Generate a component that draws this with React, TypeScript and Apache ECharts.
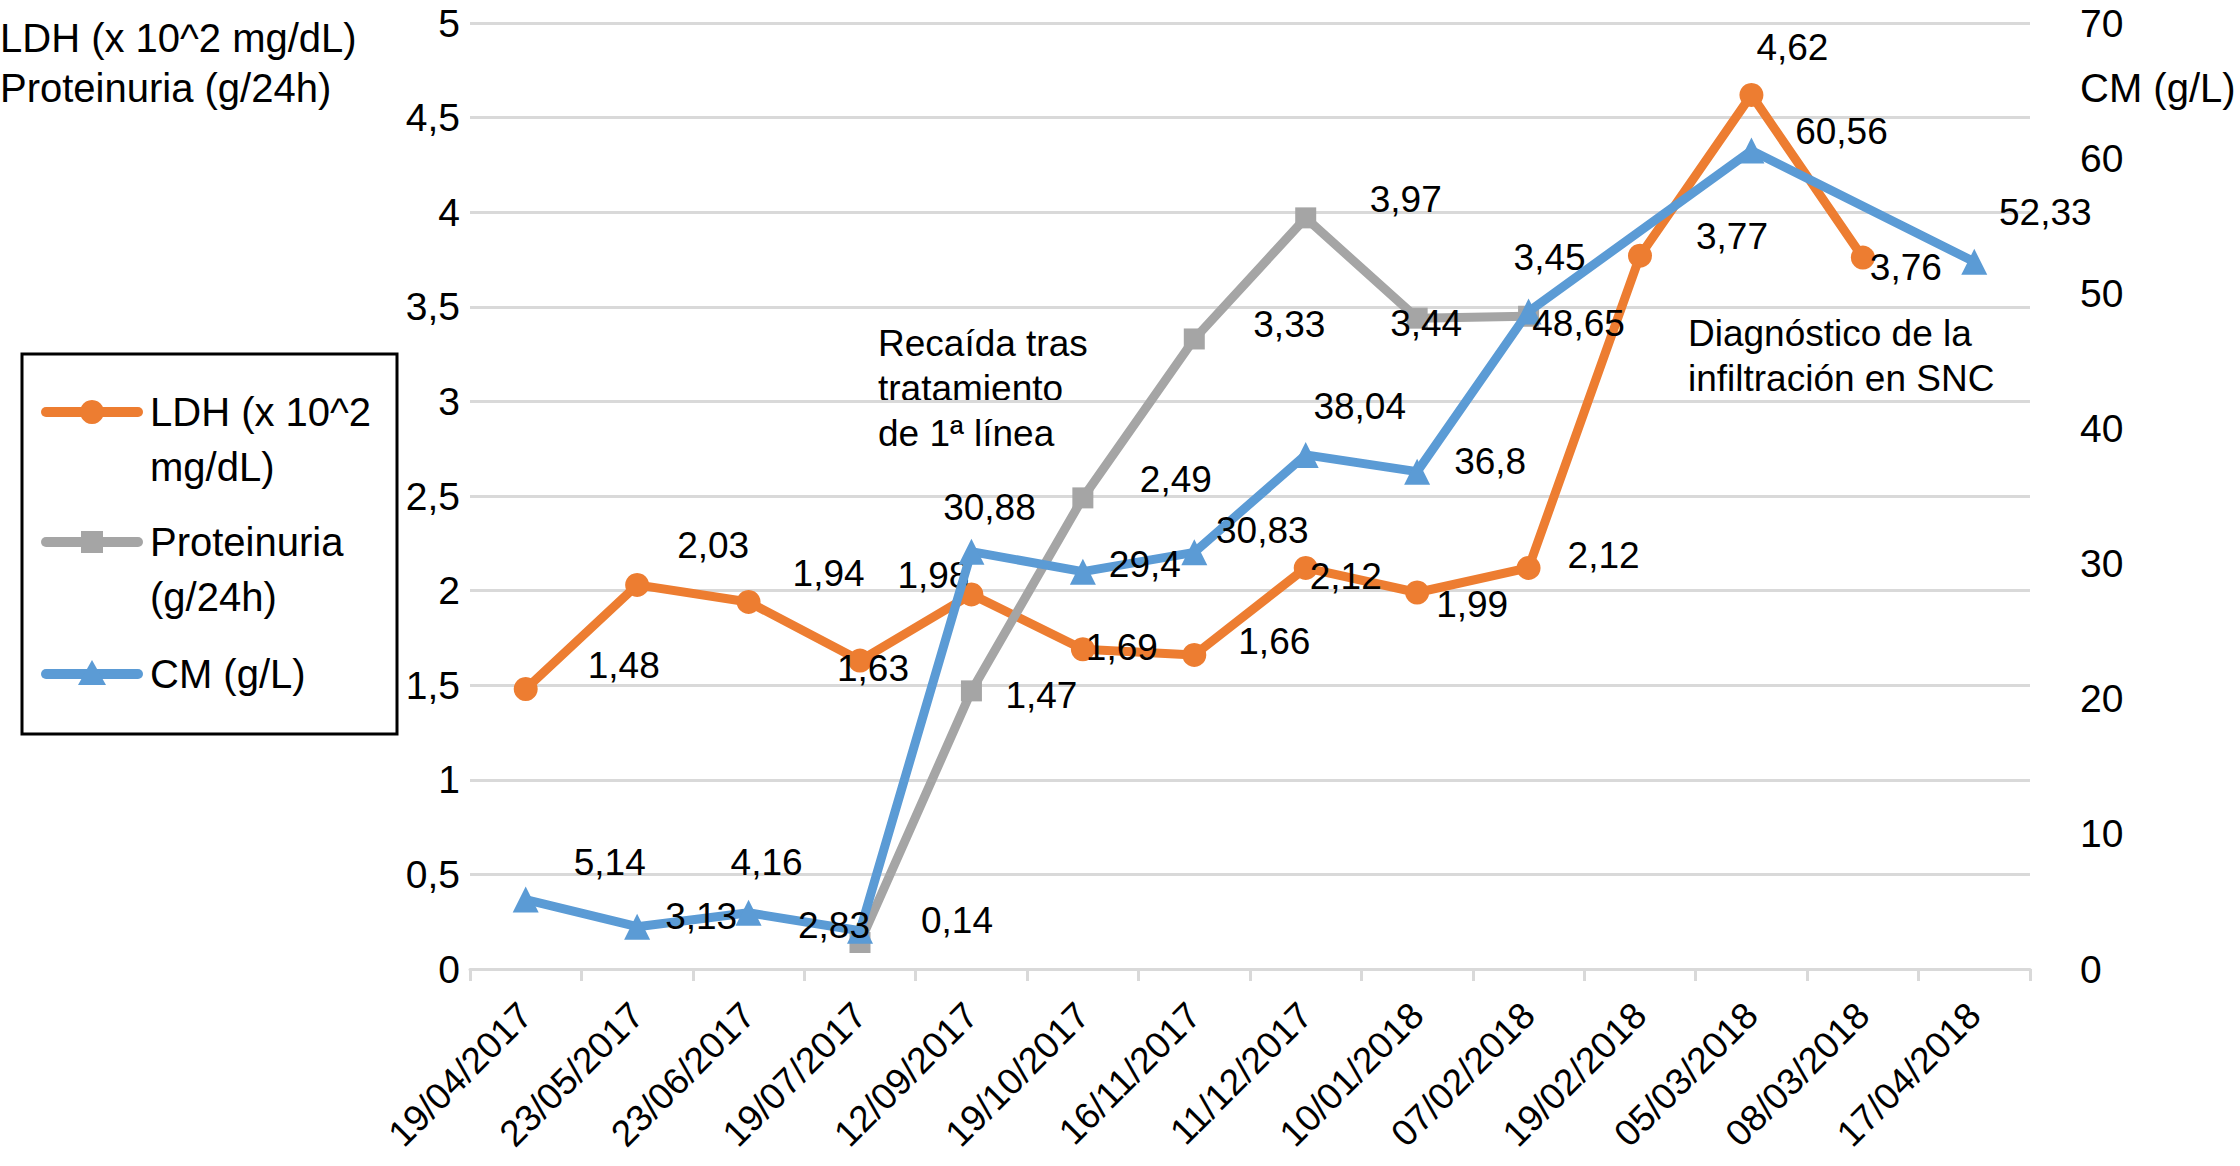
import React, { useEffect, useRef } from "react";
import * as echarts from "echarts";

// ---------- data ----------
const categories = [
  "19/04/2017", "23/05/2017", "23/06/2017", "19/07/2017", "12/09/2017", "19/10/2017", "16/11/2017",
  "11/12/2017", "10/01/2018", "07/02/2018", "19/02/2018", "05/03/2018", "08/03/2018", "17/04/2018",
];
const ldh = [1.48, 2.03, 1.94, 1.63, 1.98, 1.69, 1.66, 2.12, 1.99, 2.12, 3.77, 4.62, 3.76, null];
const proteinuria = [null, null, null, 0.14, 1.47, 2.49, 3.33, 3.97, 3.44, 3.45, null, null, null, null];
const cm = [5.14, 3.13, 4.16, 2.83, 30.88, 29.4, 30.83, 38.04, 36.8, 48.65, null, 60.56, null, 52.33];

const leftTicks = { min: 0, max: 5, interval: 0.5 };
const rightTicks = { min: 0, max: 70, interval: 10 };

const seriesNames = ["LDH (x 10^2 mg/dL)", "Proteinuria (g/24h)", "CM (g/L)"];
const legendLines = [["LDH (x 10^2", "mg/dL)"], ["Proteinuria", "(g/24h)"], ["CM (g/L)"]];
const leftAxisTitle = ["LDH (x 10^2 mg/dL)", "Proteinuria (g/24h)"];
const rightAxisTitle = "CM (g/L)";
const note1 = ["Recaída tras", "tratamiento", "de 1ª línea"];
const note2 = ["Diagnóstico de la", "infiltración en SNC"];

// ---------- label placement (pixels, relative to each point) ----------
const ldhLabelOffset = [
  [98, -23], [76, -39], [80, -28], [13, 8], [-38, -19], [39, -2], [80, -13],
  [40, 9], [55, 12], [75, -12], [92, -19], [41, -47], [43, 10], [0, 0],
];
const protLabelOffset = [
  [0, 0], [0, 0], [0, 0], [97, -22], [70, 5], [93, -18], [95, -14],
  [100, -18], [9, 5], [21, -59], [0, 0], [0, 0], [0, 0], [0, 0],
];
const cmLabelOffset = [
  [84, -37], [64, -10], [18, -50], [-26, -5], [18, -44], [62, -7], [68, -22],
  [54, -48], [73, -10], [50, 12], [0, 0], [90, -19], [0, 0], [71, -49],
];

const COLORS = ["#ED7D31", "#A5A5A5", "#5B9BD5"];
const FONT = '"Liberation Sans", Arial, Helvetica, sans-serif';
const FS_TICK = 39;
const FS_TITLE = 40;
const FS_LEGEND = 40;
const FS_LABEL = 37;
const FS_NOTE = 37;
const FS_DATE = 37;
const GRID = "#D9D9D9";

const fmt = (v: number) => String(v).replace(".", ",");

function withLabels(values: (number | null)[], offsets: number[][]) {
  return values.map((v, i) =>
    v === null ? null : { value: v, label: { offset: offsets[i] } }
  );
}

function textEl(text: string, x: number, y: number, size: number, align = "left") {
  return {
    type: "text",
    x,
    y,
    silent: true,
    style: {
      text,
      fill: "#000",
      fontSize: size,
      fontFamily: FONT,
      align,
      verticalAlign: "middle",
    },
  };
}

export default function App() {
  const ref = useRef<HTMLDivElement>(null);

  useEffect(() => {
    if (!ref.current) return;
    const chart = echarts.init(ref.current, undefined, { renderer: "svg" });

    const labelCommon = {
      show: true,
      position: "inside",
      color: "#000",
      fontSize: FS_LABEL,
      fontFamily: FONT,
      textBorderWidth: 0,
      formatter: (p: any) => fmt(p.value),
    };

    const mkSeries = (i: number, data: any[], symbol: string, size: number, yAxisIndex: number, z: number) => ({
      name: seriesNames[i],
      type: "line",
      yAxisIndex,
      data,
      symbol,
      symbolSize: size,
      showSymbol: true,
      showAllSymbol: true,
      connectNulls: true,
      z,
      itemStyle: { color: COLORS[i] },
      lineStyle: { color: COLORS[i], width: 9, cap: "round", join: "round" },
      label: labelCommon,
      emphasis: { disabled: true },
      silent: true,
    });

    const rowY = [412, 542, 674];
    const legendEls: any[] = [
      {
        type: "rect",
        shape: { x: 22, y: 354, width: 375, height: 380 },
        style: { fill: "#fff", stroke: "#000", lineWidth: 3 },
        silent: true,
      },
    ];
    rowY.forEach((y, i) => {
      legendEls.push({
        type: "line",
        shape: { x1: 46, y1: y, x2: 138, y2: y },
        style: { stroke: COLORS[i], lineWidth: 10, lineCap: "round" },
        silent: true,
      });
      if (i === 0) {
        legendEls.push({ type: "circle", shape: { cx: 92, cy: y, r: 12 }, style: { fill: COLORS[i] }, silent: true });
      } else if (i === 1) {
        legendEls.push({ type: "rect", shape: { x: 81, y: y - 11, width: 22, height: 22 }, style: { fill: COLORS[i] }, silent: true });
      } else {
        legendEls.push({
          type: "polygon",
          shape: { points: [[92, y - 14], [106, y + 11], [78, y + 11]] },
          style: { fill: COLORS[i] },
          silent: true,
        });
      }
      legendLines[i].forEach((t, k) => legendEls.push(textEl(t, 150, y + k * 55, FS_LEGEND)));
    });

    const option: any = {
      animation: false,
      backgroundColor: "#fff",
      textStyle: { fontFamily: FONT },
      grid: { left: 470, right: 210, top: 23, bottom: 197, containLabel: false },
      xAxis: {
        type: "category",
        data: categories,
        boundaryGap: true,
        axisLine: { show: true, lineStyle: { color: GRID, width: 3 } },
        axisTick: { show: true, length: 12, lineStyle: { color: GRID, width: 3 } },
        axisLabel: {
          rotate: 45,
          interval: 0,
          margin: 40,
          color: "#000",
          fontSize: FS_DATE,
          fontFamily: FONT,
        },
        splitLine: { show: false },
      },
      yAxis: [
        {
          type: "value",
          min: leftTicks.min,
          max: leftTicks.max,
          interval: leftTicks.interval,
          axisLine: { show: false },
          axisTick: { show: false },
          axisLabel: { color: "#000", fontSize: FS_TICK, fontFamily: FONT, margin: 10, formatter: (v: number) => fmt(v) },
          splitLine: { show: true, lineStyle: { color: GRID, width: 3 } },
        },
        {
          type: "value",
          position: "right",
          min: rightTicks.min,
          max: rightTicks.max,
          interval: rightTicks.interval,
          axisLine: { show: false },
          axisTick: { show: false },
          axisLabel: { color: "#000", fontSize: FS_TICK, fontFamily: FONT, margin: 50, formatter: (v: number) => fmt(v) },
          splitLine: { show: false },
        },
      ],
      series: [
        mkSeries(0, withLabels(ldh, ldhLabelOffset), "circle", 24, 0, 2),
        mkSeries(1, withLabels(proteinuria, protLabelOffset), "rect", 21, 0, 3),
        mkSeries(2, withLabels(cm, cmLabelOffset), "triangle", 26, 1, 4),
      ],
      graphic: [
        textEl(leftAxisTitle[0], 0, 38, FS_TITLE),
        textEl(leftAxisTitle[1], 0, 88, FS_TITLE),
        textEl(rightAxisTitle, 2080, 88, FS_TITLE),
        ...note1.map((t, k) => textEl(t, 878, 343 + k * 45, FS_NOTE)),
        ...note2.map((t, k) => textEl(t, 1688, 333 + k * 45, FS_NOTE)),
        ...legendEls,
      ],
    };

    chart.setOption(option);
    return () => chart.dispose();
  }, []);

  return (
    <div
      ref={ref}
      style={{ position: "fixed", left: 0, top: 0, width: 2240, height: 1166, background: "#fff" }}
    />
  );
}
